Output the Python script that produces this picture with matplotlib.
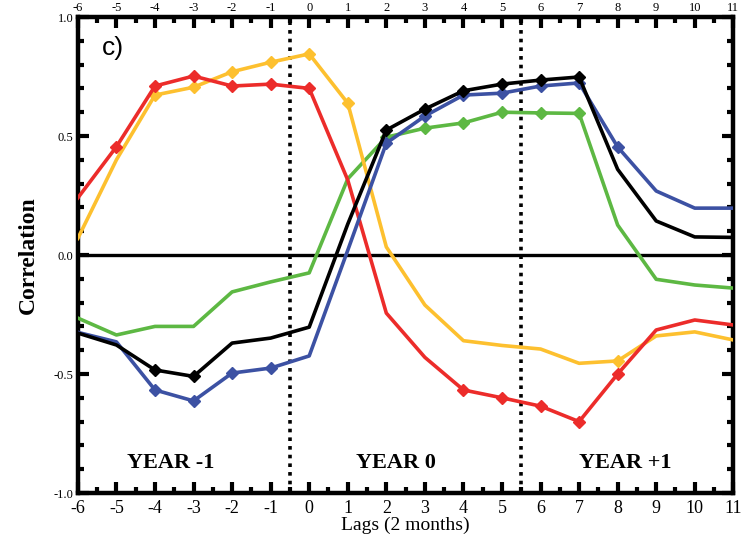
import numpy as np
import matplotlib
matplotlib.use("Agg")
import matplotlib.pyplot as plt
from matplotlib.ticker import MultipleLocator

lags = np.arange(-6, 12)

red = [0.24, 0.455, 0.71, 0.752, 0.71, 0.718, 0.70, 0.315, -0.244, -0.43,
       -0.567, -0.60, -0.635, -0.70, -0.50, -0.315, -0.273, -0.294]
yellow = [0.07, 0.40, 0.672, 0.705, 0.77, 0.81, 0.845, 0.638, 0.034, -0.21,
          -0.36, -0.38, -0.395, -0.455, -0.445, -0.34, -0.323, -0.357]
black = [-0.328, -0.378, -0.483, -0.51, -0.37, -0.349, -0.303, 0.13, 0.525, 0.613,
         0.69, 0.718, 0.735, 0.748, 0.36, 0.143, 0.076, 0.074]
blue = [-0.325, -0.365, -0.567, -0.613, -0.496, -0.475, -0.424, 0.02, 0.47, 0.584,
        0.672, 0.68, 0.71, 0.723, 0.454, 0.269, 0.197, 0.197]
green = [-0.265, -0.336, -0.30, -0.30, -0.155, -0.113, -0.075, 0.32, 0.495, 0.533,
         0.555, 0.60, 0.597, 0.595, 0.126, -0.102, -0.126, -0.139]

# lags carrying a diamond marker for each curve
red_marks = [-5, -4, -3, -2, -1, 0, 4, 5, 6, 7, 8]
yellow_marks = [-4, -3, -2, -1, 0, 1, 8]
black_marks = [-4, -3, 2, 3, 4, 5, 6, 7]
blue_marks = [-4, -3, -2, -1, 2, 3, 4, 5, 6, 7, 8]
green_marks = [2, 3, 4, 5, 6, 7]

year_labels = ["YEAR -1", "YEAR 0", "YEAR +1"]
year_x = [-3.6, 2.25, 8.2]

series = [
    (green, green_marks, "#5db843"),
    (yellow, yellow_marks, "#fdc02f"),
    (red, red_marks, "#ec2c2a"),
    (blue, blue_marks, "#3c51a3"),
    (black, black_marks, "black"),
]

plt.rcParams["font.family"] = ["Liberation Serif", "DejaVu Serif"]
plt.rcParams["axes.unicode_minus"] = False

fig = plt.figure(figsize=(7.56, 5.4), dpi=100)
ax = fig.add_axes([0.103, 0.087, 0.867, 0.8815])

ax.axhline(0, color="black", lw=2.4, zorder=2)
for xv in [-0.5, 5.5]:
    ax.axvline(xv, color="black", lw=2.6, ls=(0, (1, 1.4)), zorder=2)

for vals, marks, col in series:
    idx = [list(lags).index(m) for m in marks]
    ax.plot(lags, vals, color=col, lw=2.6, marker="D", markersize=6,
            markevery=idx, zorder=3)

ax.set_xlim(-6, 11)
ax.set_ylim(-1.0, 1.0)

ax.xaxis.set_major_locator(MultipleLocator(1))
ax.xaxis.set_minor_locator(MultipleLocator(0.5))
ax.yaxis.set_minor_locator(MultipleLocator(0.1))
ax.set_yticks([-1.0, -0.5, 0.0, 0.5, 1.0])
ax.set_yticklabels(["-1.0", "-0.5", "0.0", "0.5", "1.0"])

ax.tick_params(which="major", direction="in", length=8, width=3,
               top=True, right=True)
ax.tick_params(which="minor", direction="in", length=4, width=3,
               top=True, right=True)
ax.tick_params(axis="x", which="major", labelsize=13, pad=5)
ax.tick_params(axis="y", labelsize=9, pad=3)

# top copy of the lag labels, smaller and closer to the frame
top = ax.secondary_xaxis("top")
top.xaxis.set_major_locator(MultipleLocator(1))
top.tick_params(length=0, labelsize=9, pad=2)
top.spines["top"].set_visible(False)

for s in ax.spines.values():
    s.set_linewidth(3.2)

ax.set_xlabel("Lags (2 months)", fontsize=14, labelpad=0)
ax.set_ylabel("Correlation", fontsize=17, fontweight="bold", labelpad=11)

ax.text(-5.1, 0.87, "c)", fontsize=19, family=["Liberation Sans", "DejaVu Sans"],
        ha="center", va="center")
for lbl, xv in zip(year_labels, year_x):
    ax.text(xv, -0.875, lbl, fontsize=16, fontweight="bold", ha="center",
            va="center")

fig.savefig("out.png", dpi=100)
